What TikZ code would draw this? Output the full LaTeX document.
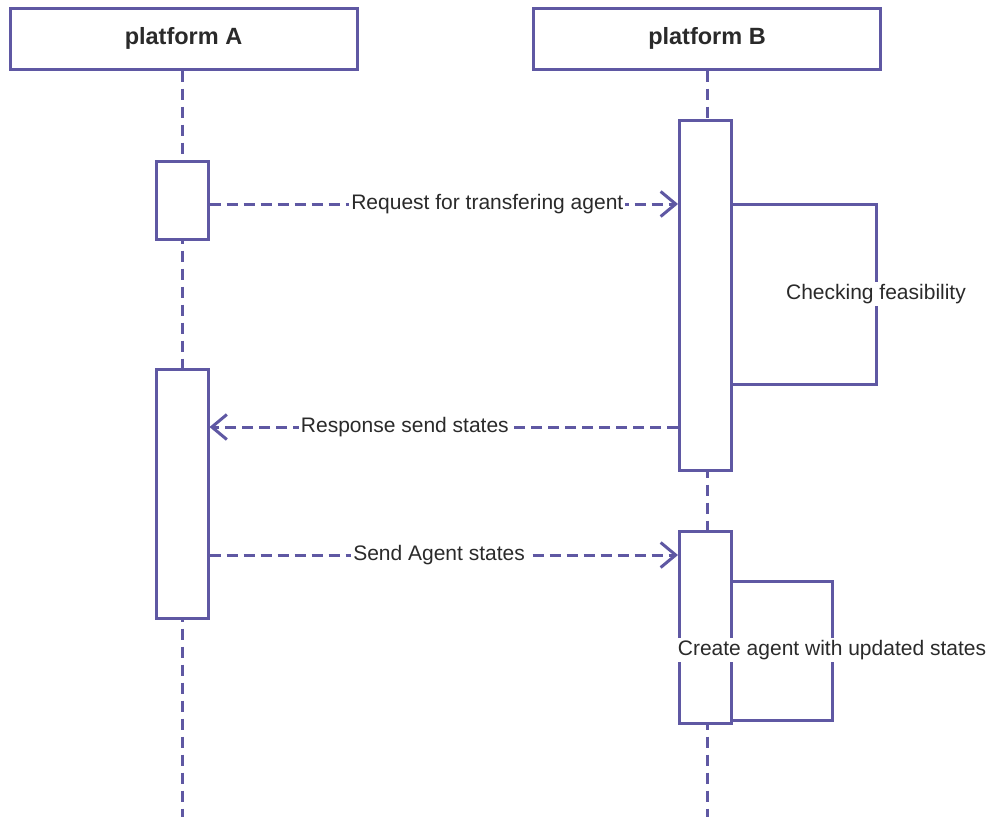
\documentclass[tikz,border=0pt]{standalone}
\usepackage{fontspec}
\setmainfont{Liberation Sans}
\usetikzlibrary{arrows.meta}
\definecolor{umlline}{HTML}{5F58A3}
\definecolor{umltext}{HTML}{2A2A2A}
\tikzset{
  header/.style={draw=umlline, line width=3pt, fill=white, minimum width=347pt,
    minimum height=61pt, inner sep=0pt, text=umltext, font=\bfseries\fontsize{23.5}{26}\selectfont},
  actbox/.style={draw=umlline, line width=3pt, fill=white, minimum width=52pt, inner sep=0pt},
  lifeline/.style={draw=umlline, line width=3pt, dash pattern=on 11pt off 7pt},
  msg/.style={draw=umlline, line width=3pt, dash pattern=on 11pt off 6pt,
    -{Straight Barb[length=15pt,width=25pt,line width=3pt]}},
  selfcall/.style={draw=umlline, line width=3pt},
  msglabel/.style={fill=white, text=umltext, inner sep=2pt, font=\fontsize{21}{24}\selectfont}
}
\begin{document}
\begin{tikzpicture}[x=1pt, y=-1pt]
\useasboundingbox (0,0) rectangle (989,817);

% lifeline headers
\node[header] (pa) at (183.5,38.5) {platform A};
\node[header] (pb) at (707,38.5) {platform B};

% lifelines
\coordinate (pa-end) at (182,817);
\coordinate (pb-end) at (707,817);
\draw[lifeline] (pa.south -| pa-end) -- (pa-end);
\draw[lifeline] (pb.south -| pb-end) -- (pb-end);

% activation bars
\node[actbox, minimum height=78pt]  (a1) at (182,200) {};
\node[actbox, minimum height=249pt] (a2) at (182,493.5) {};
\node[actbox, minimum height=350pt] (b1) at (705.5,295) {};
\node[actbox, minimum height=192pt] (b2) at (705.5,627) {};

% message rows
\coordinate (r1) at (0,204);
\coordinate (r2) at (0,427);
\coordinate (r3) at (0,555);

% messages
\draw[msg] (a1.east |- r1) -- node[msglabel, pos=0.593] {Request for transfering agent} (b1.west |- r1);
\draw[msg] (b1.west |- r2) -- node[msglabel, pos=0.583] {Response send states} (a2.east |- r2);
\draw[msg] (a2.east |- r3) -- node[msglabel, pos=0.49] {Send Agent states} (b2.west |- r3);

% self calls on platform B
\coordinate (s1a) at (876,204);
\coordinate (s1b) at (876,384);
\draw[selfcall] (b1.east |- s1a) -- (s1a) -- node[msglabel, pos=0.5] {Checking feasibility} (s1b) -- (b1.east |- s1b);

\coordinate (s2a) at (832,581);
\coordinate (s2b) at (832,720);
\draw[selfcall] (b2.east |- s2a) -- (s2a) -- (s2b) -- (b2.east |- s2b);
\node[msglabel] (create) at (832,650) {Create agent with updated states};
\end{tikzpicture}
\end{document}
